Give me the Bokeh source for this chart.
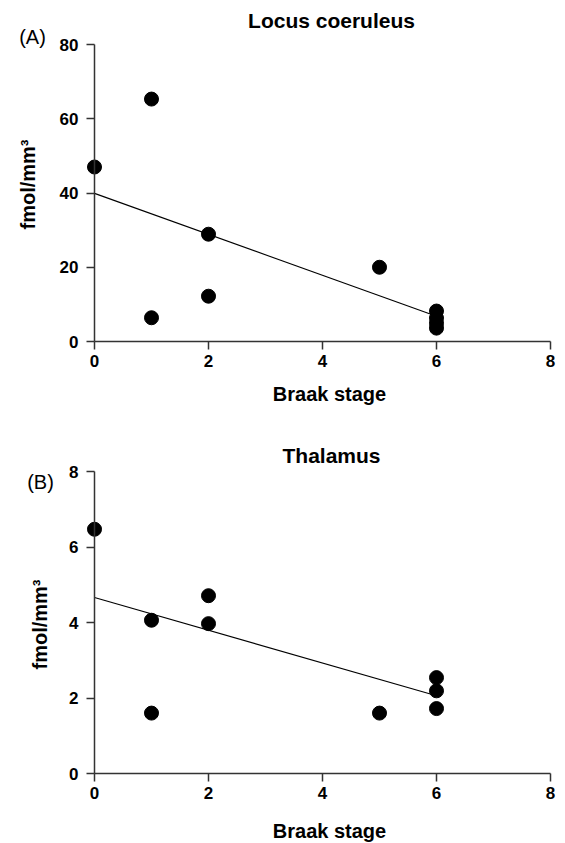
import math
from bokeh.plotting import figure
from bokeh.layouts import column
from bokeh.models import Range1d, FixedTicker, Label, LinearAxis
from bokeh.embed import file_html
from bokeh.resources import INLINE

# ---- data ----
x_ticks = [0, 2, 4, 6, 8]
x_title = "Braak stage"
y_title = "fmol/mm\u00b3"

lc_title = "Locus coeruleus"
lc_stage = [0, 1, 1, 2, 2, 5, 6, 6, 6, 6]
lc_value = [47.0, 65.3, 6.4, 28.9, 12.2, 20.0, 8.2, 6.3, 4.9, 3.6]
lc_fit_x = [0, 6]
lc_fit_y = [39.9, 6.8]
lc_y_ticks = [0, 20, 40, 60, 80]

th_title = "Thalamus"
th_stage = [0, 1, 1, 2, 2, 5, 6, 6, 6]
th_value = [6.47, 4.06, 1.60, 4.71, 3.97, 1.60, 2.54, 2.19, 1.72]
th_fit_x = [0, 6]
th_fit_y = [4.66, 2.06]
th_y_ticks = [0, 2, 4, 6, 8]

# ---- layout (pixels) ----
W = 565
X0_PX = 94        # pixel column of x = 0
X_PPU = 57.0      # pixels per Braak stage
FONT = "Liberation Sans"
AX = "#333333"


def style_axis(ax):
    ax.axis_line_color = AX
    ax.axis_line_width = 1.5
    ax.major_tick_line_color = AX
    ax.major_tick_line_width = 1.5
    ax.major_tick_out = 8
    ax.major_tick_in = 0
    ax.minor_tick_line_color = None
    ax.major_label_text_font = FONT
    ax.major_label_text_font_size = "17px"
    ax.major_label_text_font_style = "bold"
    ax.major_label_text_color = "black"


def txt(p, text, x, y, dx, dy, size, bold=True, angle=0.0):
    p.add_layout(Label(x=x, y=y, x_offset=dx, y_offset=dy, text=text, angle=angle,
                       text_align="center", text_baseline="alphabetic",
                       text_font=FONT, text_font_size=size,
                       text_font_style="bold" if bold else "normal",
                       text_color="black"))


def panel(title, tag, stage, value, fit_x, fit_y, y_ticks, height, y0_px, ytop_px,
          title_dy, tag_dx, tag_dy, xlab_dy, ylab_dx, ylab_dy):
    ymax = y_ticks[-1]
    y_ppu = (y0_px - ytop_px) / ymax
    p = figure(width=W, height=height, output_backend="svg", toolbar_location=None,
               x_range=Range1d(-X0_PX / X_PPU, (W - X0_PX) / X_PPU),
               y_range=Range1d(-(height - y0_px) / y_ppu, ymax + ytop_px / y_ppu),
               x_axis_location=None, y_axis_location=None,
               min_border=0)
    p.outline_line_color = None
    p.grid.visible = False
    p.background_fill_color = "white"
    p.border_fill_color = "white"

    xa = LinearAxis(ticker=FixedTicker(ticks=x_ticks), bounds=(x_ticks[0], x_ticks[-1]),
                    fixed_location=0)
    style_axis(xa)
    xa.major_label_standoff = 5
    p.add_layout(xa, "below")

    ya = LinearAxis(ticker=FixedTicker(ticks=y_ticks), bounds=(y_ticks[0], ymax),
                    fixed_location=0)
    style_axis(ya)
    ya.major_label_standoff = 8
    p.add_layout(ya, "left")

    p.line(fit_x, fit_y, line_color="black", line_width=1.1)
    p.scatter(stage, value, size=14, marker="circle",
              fill_color="black", line_color="black")

    txt(p, title, 0, ymax, 237, title_dy, "21px")
    txt(p, tag, 0, ymax, tag_dx, tag_dy, "20px", bold=False)
    txt(p, x_title, 0, 0, 235, xlab_dy, "20px")
    txt(p, y_title, 0, 0, ylab_dx, ylab_dy, "20px", angle=math.pi / 2)
    return p


p1 = panel(lc_title, "(A)", lc_stage, lc_value, lc_fit_x, lc_fit_y, lc_y_ticks,
           height=420, y0_px=341, ytop_px=44,
           title_dy=24, tag_dx=-62, tag_dy=8, xlab_dy=-52, ylab_dx=-67, ylab_dy=157)
p2 = panel(th_title, "(B)", th_stage, th_value, th_fit_x, th_fit_y, th_y_ticks,
           height=423, y0_px=353, ytop_px=51,
           title_dy=16, tag_dx=-54, tag_dy=-10, xlab_dy=-57, ylab_dx=-55, ylab_dy=149)

layout = column(p1, p2, spacing=0)
open("out.html", "w").write(file_html(layout, INLINE))
